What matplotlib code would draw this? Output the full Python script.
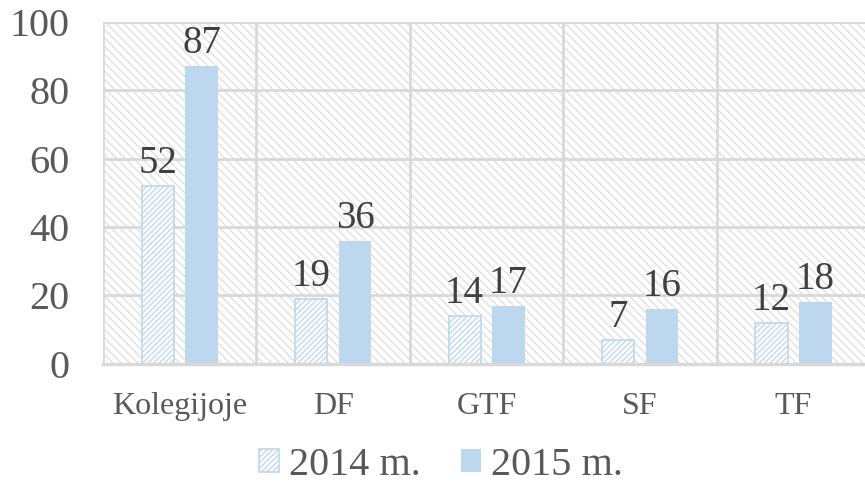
import numpy as np
import matplotlib.pyplot as plt
from matplotlib.patches import Rectangle

categories = ['Kolegijoje', 'DF', 'GTF', 'SF', 'TF']
values_2014 = [52, 19, 14, 7, 12]
values_2015 = [87, 36, 17, 16, 18]
series_names = ['2014 m.', '2015 m.']

blue = '#bdd7ee'
grid_grey = '#d9d9d9'
text_dark = '#404040'
text_grey = '#595959'

plt.rcParams['font.family'] = ['Liberation Serif', 'DejaVu Serif']
plt.rcParams['hatch.linewidth'] = 0.9


def main():
    fig = plt.figure(figsize=(8.65, 4.87), dpi=100)
    ax = fig.add_axes([0.119, 0.253, 0.887, 0.702])

    x = np.arange(len(categories))
    width = 0.21
    offset = 0.143

    # hatched plot background
    ax.add_patch(Rectangle((0, 0), 1, 1, transform=ax.transAxes, facecolor='white',
                           edgecolor='#dedede', hatch='\\' * 4, linewidth=0, zorder=0))

    b1 = ax.bar(x - offset, values_2014, width, facecolor='white', edgecolor=blue,
                hatch='/' * 6, linewidth=1.2, zorder=3, label=series_names[0])
    b2 = ax.bar(x + offset, values_2015, width, color=blue, zorder=3,
                label=series_names[1])

    for bars in (b1, b2):
        for rect in bars:
            h = rect.get_height()
            ax.annotate(str(int(h)), (rect.get_x() + rect.get_width() / 2, h),
                        xytext=(0, 3), textcoords='offset points',
                        ha='center', va='bottom', fontsize=28, color=text_dark,
                        zorder=4)

    ax.set_xlim(-0.5, len(categories) - 0.5)
    ax.set_ylim(0, 100)
    ax.set_yticks(range(0, 101, 20))
    ax.set_xticks(x)
    ax.set_xticklabels(categories)
    ax.set_xticks(np.arange(-0.5, len(categories), 1.0), minor=True)

    ax.grid(axis='y', color=grid_grey, linewidth=2, zorder=1)
    ax.grid(axis='x', which='minor', color=grid_grey, linewidth=2, zorder=1)
    ax.grid(axis='x', which='major', visible=False)
    ax.set_axisbelow(True)

    for side in ('top', 'right', 'left'):
        ax.spines[side].set_visible(False)
    ax.spines['bottom'].set_color(grid_grey)
    ax.spines['bottom'].set_linewidth(2.5)
    ax.spines['bottom'].set_zorder(3.5)

    ax.tick_params(axis='y', length=0, pad=24, labelsize=29, labelcolor=text_grey)
    ax.tick_params(axis='x', which='both', length=0, pad=20, labelsize=23,
                   labelcolor=text_grey)

    fig.legend(handles=[b1, b2], loc='lower center', bbox_to_anchor=(0.51, -0.068),
               ncol=2, frameon=False, fontsize=29, handlelength=0.5,
               handleheight=0.5, handletextpad=0.25, columnspacing=1.0,
               labelcolor=text_grey)

    fig.savefig('out.png', dpi=100)


if __name__ == "__main__":
    main()
